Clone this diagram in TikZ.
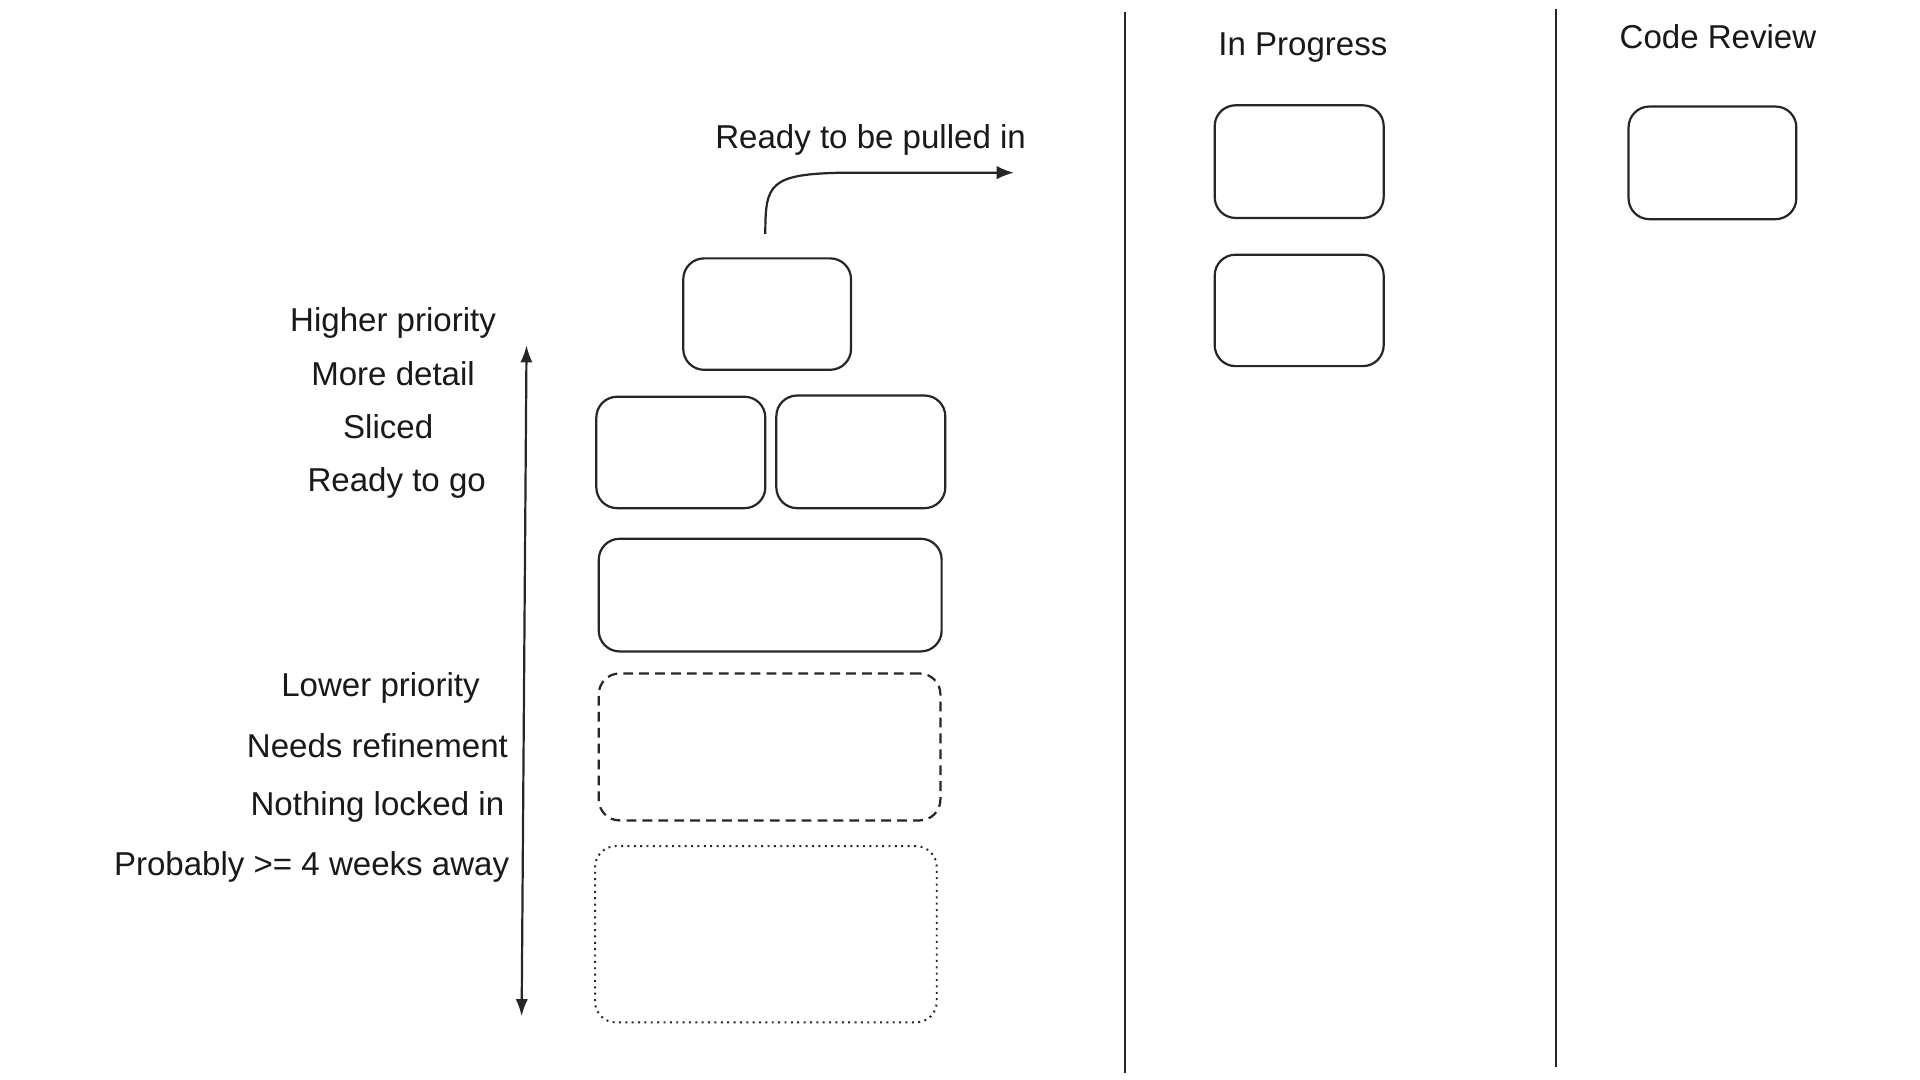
\documentclass[tikz,border=0pt]{standalone}
\usepackage{fontspec}
\setmainfont{Liberation Sans}
\usetikzlibrary{arrows.meta}
\begin{document}
\begin{tikzpicture}[x=1pt,y=-1pt,
  card/.style={draw=black!85, line width=1.8pt, rounded corners=17pt, inner sep=0pt, outer sep=0pt, anchor=north west},
  dashcard/.style={card, dash pattern=on 8pt off 5pt},
  dotcard/.style={card, line width=1.6pt, dash pattern=on 1.6pt off 3.6pt},
  lbl/.style={font=\fontsize{27}{31}\selectfont, text=black!90, inner sep=0pt},
  lane/.style={draw=black!85, line width=1.8pt},
  arr/.style={draw=black!85, line width=1.8pt, -{Latex[length=14pt,width=11pt]}},
  darr/.style={draw=black!85, line width=1.8pt, {Latex[length=14pt,width=10pt]}-{Latex[length=14pt,width=10pt]}}
]
\useasboundingbox[fill=white] (0,0) rectangle (1568,882);

% lanes
\draw[lane] (919,10) -- (919,876);
\draw[lane] (1271,7) -- (1271,871);

% headings
\node[lbl, anchor=base] (hip) at (1064,45) {In Progress};
\node[lbl, anchor=base] (hcr) at (1403,40) {Code Review};

% in progress / code review cards
\node[card, minimum width=138pt, minimum height=92pt] (ip1) at (992,86) {};
\node[card, minimum width=138pt, minimum height=91pt] (ip2) at (992,208) {};
\node[card, minimum width=137pt, minimum height=92pt] (cr1) at (1330,87) {};

% backlog cards
\node[card, minimum width=137pt, minimum height=91pt] (top) at (558,211) {};
\node[card, minimum width=138pt, minimum height=91pt] (r1) at (487,324) {};
\node[card, minimum width=138pt, minimum height=92pt] (r2) at (634,323) {};
\node[card, minimum width=280pt, minimum height=92pt] (wide) at (489,440) {};
\node[dashcard, minimum width=279pt, minimum height=120pt] (dash) at (489,550) {};
\node[dotcard, minimum width=279pt, minimum height=144pt] (dot) at (486,691) {};

% pull arrow
\node[lbl, anchor=base] (pull) at (711,121) {Ready to be pulled in};
\coordinate (pullstart) at (625,191);
\coordinate (pullend) at (828,141);
\draw[arr] (pullstart) .. controls (625,150) and (628,142) .. (690,141) -- (pullend);

% priority axis
\coordinate (hi) at (430,282);
\coordinate (lo) at (426,830);
\draw[darr] (lo) -- (hi);

% left labels
\node[lbl, anchor=base] (t1) at (321,271) {Higher priority};
\node[lbl, anchor=base] (t2) at (321,315) {More detail};
\node[lbl, anchor=base] (t3) at (317,358) {Sliced};
\node[lbl, anchor=base] (t4) at (324,401) {Ready to go};
\node[lbl, anchor=base east] (b1) at (392,569) {Lower priority};
\node[lbl, anchor=base east] (b2) at (415,619) {Needs refinement};
\node[lbl, anchor=base east] (b3) at (412,666) {Nothing locked in};
\node[lbl, anchor=base east] (b4) at (416,715) {Probably >= 4 weeks away};
\end{tikzpicture}
\end{document}
